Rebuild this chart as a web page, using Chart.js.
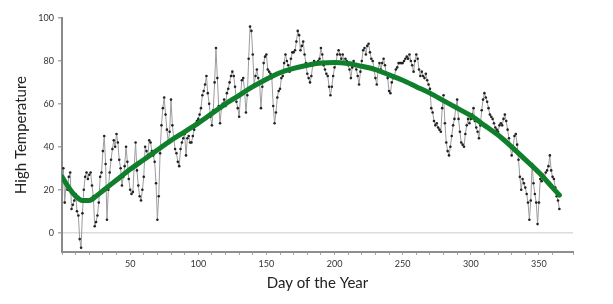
<!DOCTYPE html>
<html>
<head>
<meta charset="utf-8">
<script src="https://cdn.jsdelivr.net/npm/chart.js@4.4.1/dist/chart.umd.min.js"></script>
<style>
  html, body { margin: 0; padding: 0; background: #fff; }
  #wrap { width: 613px; height: 304px; }
</style>
</head>
<body>
<div id="wrap"><canvas id="tempChart" width="613" height="304"></canvas></div>
<script>
// daily high temperature, day 1..365
const highTemps = [
  30, 14, 23, 20, 26, 28, 11, 13, 15, 18, 10, 8, -3, -7, 9, 20, 26, 28, 25, 27,
  28, 22, 17, 3, 5, 8, 14, 26, 28, 38, 45, 32, 6, 20, 28, 34, 39, 43, 40, 46,
  42, 34, 30, 22, 26, 31, 40, 33, 25, 20, 18, 19, 31, 42, 29, 22, 17, 15, 20, 26,
  40, 38, 36, 43, 42, 38, 36, 33, 23, 6, 17, 37, 50, 58, 63, 55, 48, 42, 47, 62,
  50, 44, 39, 37, 33, 31, 39, 42, 44, 46, 36, 44, 45, 42, 42, 45, 48, 50, 52, 53,
  55, 58, 64, 66, 69, 73, 65, 60, 54, 50, 57, 70, 86, 72, 59, 51, 58, 60, 62, 59,
  65, 67, 70, 73, 75, 73, 68, 61, 58, 54, 64, 71, 72, 66, 56, 64, 81, 96, 94, 83,
  69, 73, 76, 72, 70, 58, 68, 79, 82, 83, 76, 75, 74, 72, 59, 51, 56, 63, 66, 67,
  72, 73, 79, 83, 80, 78, 75, 81, 84, 84, 85, 89, 94, 92, 85, 87, 89, 83, 79, 74,
  72, 70, 73, 78, 80, 79, 79, 80, 81, 86, 83, 78, 76, 74, 73, 68, 64, 68, 73, 77,
  79, 83, 85, 83, 81, 83, 79, 81, 80, 78, 76, 72, 77, 80, 78, 76, 73, 69, 75, 80,
  85, 86, 83, 87, 88, 84, 81, 80, 76, 72, 69, 76, 79, 76, 79, 81, 78, 74, 72, 66,
  65, 70, 72, 73, 76, 77, 79, 79, 79, 79, 80, 81, 82, 81, 83, 80, 78, 75, 80, 83,
  81, 76, 73, 75, 73, 72, 74, 71, 69, 67, 58, 56, 52, 50, 51, 49, 48, 47, 58, 64,
  51, 42, 38, 36, 40, 45, 50, 53, 58, 62, 53, 47, 42, 41, 40, 46, 50, 53, 51, 53,
  55, 58, 52, 49, 47, 44, 50, 57, 62, 65, 63, 61, 58, 55, 54, 53, 51, 49, 48, 47,
  50, 51, 50, 53, 55, 52, 48, 44, 40, 36, 39, 45, 46, 41, 34, 26, 20, 25, 23, 21,
  18, 14, 6, 15, 32, 23, 18, 14, 4, 14, 25, 24, 27, 26, 28, 29, 31, 36, 29, 26,
  25, 21, 17, 15, 11
];

// smooth trend (green curve)
const trendDays   = [0, 5, 10, 15, 20, 25, 30, 40, 50, 60, 70, 80, 90, 100, 110, 120, 130, 140, 150, 160, 170, 180, 190, 200, 210, 220, 230, 240, 250, 260, 270, 280, 290, 300, 310, 320, 330, 340, 350, 360, 365];
const trendValues = [26, 21, 17, 15, 15, 17, 19.5, 24.5, 29.5, 34, 38.5, 43, 47, 51, 55.5, 60, 64, 68, 71.5, 74.5, 76.5, 78, 79, 79.3, 78.8, 77.5, 76, 73.5, 71, 68, 65, 61.5, 58, 54.5, 50, 45.5, 40, 34, 28, 21, 17.5];

const yTicks = [0, 20, 40, 60, 80, 100];
const xLabelEvery = 50;

const FONT = 'Lato, "Open Sans", sans-serif';

const dailyPoints = highTemps.map((t, i) => ({ x: i + 1, y: t }));
const trendPoints = trendDays.map((d, i) => ({ x: d, y: trendValues[i] }));

const ctx = document.getElementById('tempChart').getContext('2d');
new Chart(ctx, {
  type: 'line',
  data: {
    datasets: [
      {
        label: 'Trend',
        data: trendPoints,
        borderColor: '#0f7f2c',
        borderWidth: 5,
        pointRadius: 0,
        tension: 0.4,
        cubicInterpolationMode: 'monotone',
        borderCapStyle: 'round',
        order: 0
      },
      {
        label: 'High Temperature',
        data: dailyPoints,
        borderColor: '#9c9c9c',
        borderWidth: 1,
        pointRadius: 1.3,
        pointBackgroundColor: '#222',
        pointBorderWidth: 0,
        tension: 0,
        order: 1
      }
    ]
  },
  options: {
    responsive: false,
    animation: false,
    layout: { padding: { top: 18, right: 40, left: 0, bottom: 0 } },
    plugins: { legend: { display: false }, tooltip: { enabled: false } },
    scales: {
      x: {
        type: 'linear',
        min: 0,
        max: 375,
        afterFit: (scale) => { scale.height = 52; },
        border: { color: '#8f8f8f', width: 2 },
        grid: { drawOnChartArea: false, tickLength: 3, tickColor: '#aaa' },
        ticks: {
          stepSize: 10,
          autoSkip: false,
          maxRotation: 0,
          padding: 4,
          color: '#333',
          font: { family: FONT, size: 9 },
          callback: (v) => (v > 0 && v % xLabelEvery === 0 ? v : '')
        },
        title: {
          display: true,
          text: 'Day of the Year',
          color: '#222',
          font: { family: FONT, size: 15 },
          padding: { top: 0, bottom: 12 }
        }
      },
      y: {
        min: -9,
        max: 100,
        afterBuildTicks: (scale) => { scale.ticks = yTicks.map(v => ({ value: v })); },
        afterFit: (scale) => { scale.width = 62; },
        border: { color: '#8a8a8a', width: 2 },
        grid: {
          color: (c) => (c.tick && c.tick.value === 0 ? '#dcdcdc' : 'rgba(0,0,0,0)'),
          lineWidth: 1.5,
          tickLength: 4,
          tickColor: '#aaa'
        },
        ticks: {
          padding: 4,
          color: '#333',
          font: { family: FONT, size: 9 }
        },
        title: {
          display: true,
          text: 'High Temperature',
          color: '#222',
          font: { family: FONT, size: 15 },
          padding: { top: 12, bottom: 0 }
        }
      }
    }
  }
});
</script>
</body>
</html>
